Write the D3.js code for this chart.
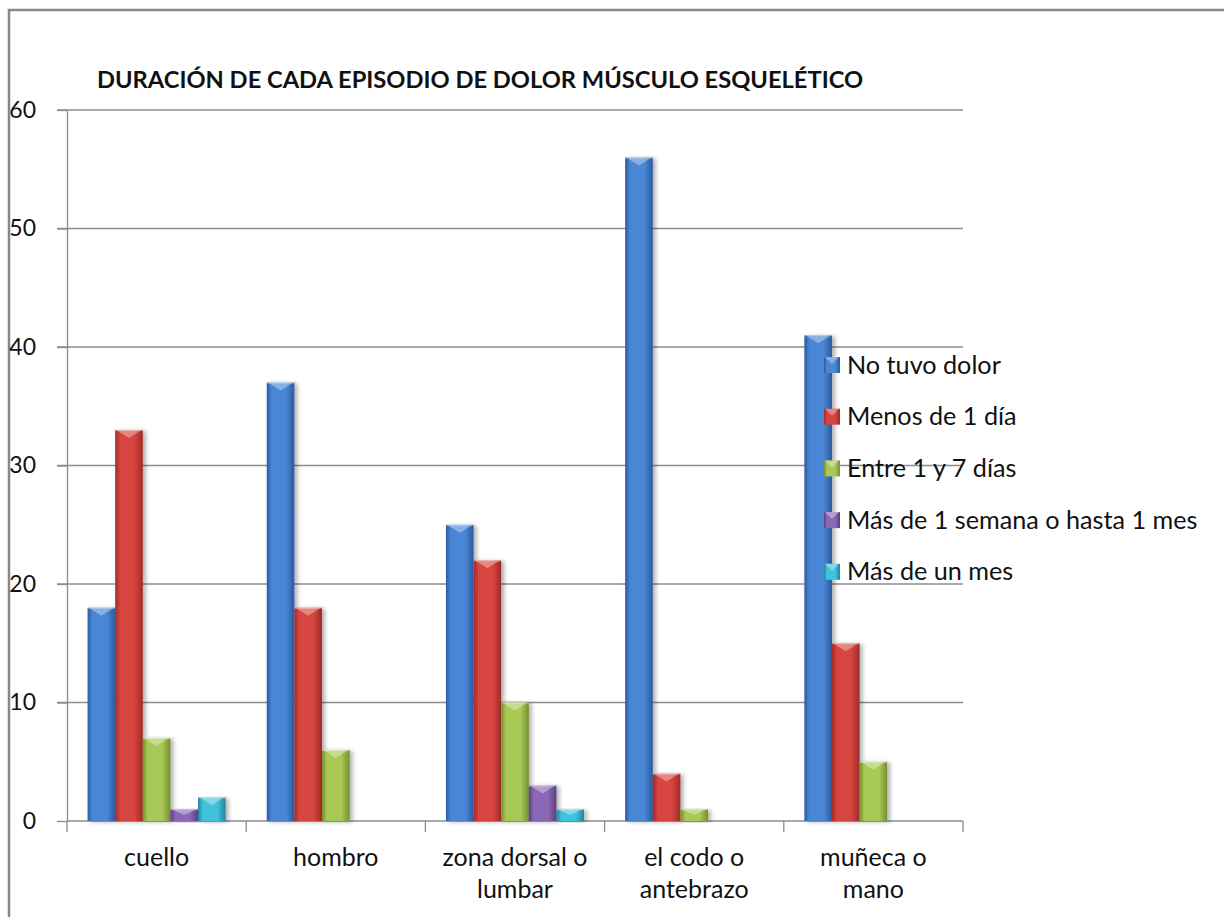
<!DOCTYPE html>
<html lang="es">
<head>
<meta charset="utf-8">
<style>
  body { margin: 0; background: white; }
  svg { display: block; }
  text { font-family: Lato, "Open Sans", sans-serif; fill: #111; }
  .grid line { stroke: #8c8c8c; stroke-width: 1.3px; }
  .axis path, .axis line { stroke: #8c8c8c; stroke-width: 1.3px; }
  .title { font-weight: bold; font-size: 23.7px; }
</style>
<script src="https://d3js.org/d3.v7.min.js"></script>
</head>
<body>
<script>
var categories = [["cuello"], ["hombro"], ["zona dorsal o", "lumbar"], ["el codo o", "antebrazo"], ["muñeca o", "mano"]];
var series = ["No tuvo dolor", "Menos de 1 día", "Entre 1 y 7 días", "Más de 1 semana o hasta 1 mes", "Más de un mes"];
var noTuvo   = [18, 37, 25, 56, 41];
var menos1   = [33, 18, 22, 4, 15];
var entre1y7 = [7, 6, 10, 1, 5];
var masSem   = [1, 0, 3, 0, 0];
var masMes   = [2, 0, 1, 0, 0];
var yTicks = [0, 10, 20, 30, 40, 50, 60];

var values = [noTuvo, menos1, entre1y7, masSem, masMes];
var colors = [
  { mid: "#4a87d6", edge: "#2a5a9e" },
  { mid: "#d7443f", edge: "#9e2a27" },
  { mid: "#a8c957", edge: "#72902c" },
  { mid: "#8a68b6", edge: "#5b3f80" },
  { mid: "#3fc2dc", edge: "#23859a" }
];

var width = 1224, height = 917;
var svg = d3.select("body").append("svg").attr("width", width).attr("height", height);

// outer frame
svg.append("path").attr("d", "M9,917 V10 H1224").attr("fill", "none").attr("stroke", "#888").attr("stroke-width", 2.5);

var defs = svg.append("defs");
colors.forEach(function (c, i) {
  var g = defs.append("linearGradient").attr("id", "g" + i).attr("x1", "0").attr("x2", "1").attr("y1", "0").attr("y2", "0");
  g.append("stop").attr("offset", "0%").attr("stop-color", c.edge);
  g.append("stop").attr("offset", "18%").attr("stop-color", c.mid);
  g.append("stop").attr("offset", "70%").attr("stop-color", c.mid);
  g.append("stop").attr("offset", "100%").attr("stop-color", c.edge);
});
var sh = defs.append("filter").attr("id", "shadow").attr("x", "-20%").attr("y", "-5%").attr("width", "160%").attr("height", "115%");
sh.append("feDropShadow").attr("dx", 3).attr("dy", 1).attr("stdDeviation", 2).attr("flood-color", "#000").attr("flood-opacity", 0.3);

var plotL = 67, plotR = 963, plotT = 110, plotB = 821;

var x0 = d3.scaleBand().domain(d3.range(categories.length)).range([plotL, plotR]).paddingInner(0).paddingOuter(0);
var x1 = d3.scaleBand().domain(d3.range(series.length)).range([0, x0.bandwidth()]).paddingOuter(0.745).paddingInner(0);
var y = d3.scaleLinear().domain([0, 60]).range([plotB, plotT]);

// gridlines
svg.append("g").attr("class", "grid")
  .selectAll("line").data(yTicks.filter(function (d) { return d > 0; })).join("line")
  .attr("x1", plotL - 10).attr("x2", plotR)
  .attr("y1", function (d) { return y(d); }).attr("y2", function (d) { return y(d); });

// y axis
var yAxis = svg.append("g").attr("class", "axis").attr("transform", "translate(" + plotL + ",0)")
  .call(d3.axisLeft(y).tickValues(yTicks).tickSize(10).tickSizeOuter(0).tickPadding(21));
yAxis.selectAll("text").attr("font-size", 23).attr("fill", "#111").style("font-family", "Lato, sans-serif");

// x axis
var xAxis = svg.append("g").attr("class", "axis").attr("transform", "translate(0," + plotB + ")");
xAxis.append("line").attr("x1", plotL).attr("x2", plotR).attr("y1", 0).attr("y2", 0);
xAxis.selectAll("line.tk").data(d3.range(categories.length + 1)).join("line").attr("class", "tk")
  .attr("x1", function (i) { return plotL + i * x0.bandwidth(); })
  .attr("x2", function (i) { return plotL + i * x0.bandwidth(); })
  .attr("y1", 0).attr("y2", 11);

var labels = svg.append("g").selectAll("text").data(categories).join("text")
  .attr("text-anchor", "middle").attr("font-size", 25)
  .attr("x", function (d, i) { return x0(i) + x0.bandwidth() / 2; })
  .attr("y", 866);
labels.selectAll("tspan").data(function (d) { return d; }).join("tspan")
  .attr("x", function () { return d3.select(this.parentNode).attr("x"); })
  .attr("dy", function (d, j) { return j === 0 ? 0 : 32; })
  .text(function (d) { return d; });

// bars
var groups = svg.append("g").selectAll("g").data(categories).join("g")
  .attr("transform", function (d, i) { return "translate(" + x0(i) + ",0)"; });

groups.each(function (d, ci) {
  var g = d3.select(this);
  var data = series.map(function (s, si) { return { si: si, v: values[si][ci] }; }).filter(function (b) { return b.v > 0; });
  var bars = g.selectAll("g.bar").data(data).join("g").attr("class", "bar");
  bars.append("rect")
    .attr("x", function (b) { return x1(b.si); })
    .attr("y", function (b) { return y(b.v); })
    .attr("width", x1.bandwidth())
    .attr("height", function (b) { return y(0) - y(b.v); })
    .attr("fill", function (b) { return "url(#g" + b.si + ")"; })
    .attr("filter", "url(#shadow)");
  // bevel highlight on top
  bars.append("path")
    .attr("d", function (b) {
      var xa = x1(b.si), w = x1.bandwidth(), yt = y(b.v), h = Math.min(8, (y(0) - yt) / 2);
      return "M" + (xa + 1) + "," + yt + "L" + (xa + w - 1) + "," + yt + "L" + (xa + w / 2) + "," + (yt + h) + "Z";
    })
    .attr("fill", "#fff").attr("opacity", 0.35);
  bars.append("line")
    .attr("x1", function (b) { return x1(b.si); })
    .attr("x2", function (b) { return x1(b.si) + x1.bandwidth(); })
    .attr("y1", function (b) { return y(b.v) + 0.5; })
    .attr("y2", function (b) { return y(b.v) + 0.5; })
    .attr("stroke", "#fff").attr("stroke-opacity", 0.4);
});

// title
svg.append("text").attr("class", "title").attr("x", 97).attr("y", 88)
  .text("DURACIÓN DE CADA EPISODIO DE DOLOR MÚSCULO ESQUELÉTICO");

// legend
var legend = svg.append("g").attr("transform", "translate(824,365)");
var items = legend.selectAll("g").data(series).join("g")
  .attr("transform", function (d, i) { return "translate(0," + (i * 51.7) + ")"; });
items.append("rect").attr("x", 0).attr("y", -8).attr("width", 16).attr("height", 16)
  .attr("fill", function (d, i) { return "url(#g" + i + ")"; });
items.append("path").attr("d", "M1,-8 L15,-8 L8,-1 Z").attr("fill", "#fff").attr("opacity", 0.35);
items.append("text").attr("x", 23).attr("y", 8.5).attr("font-size", 25.2).text(function (d) { return d; });
</script>
</body>
</html>
